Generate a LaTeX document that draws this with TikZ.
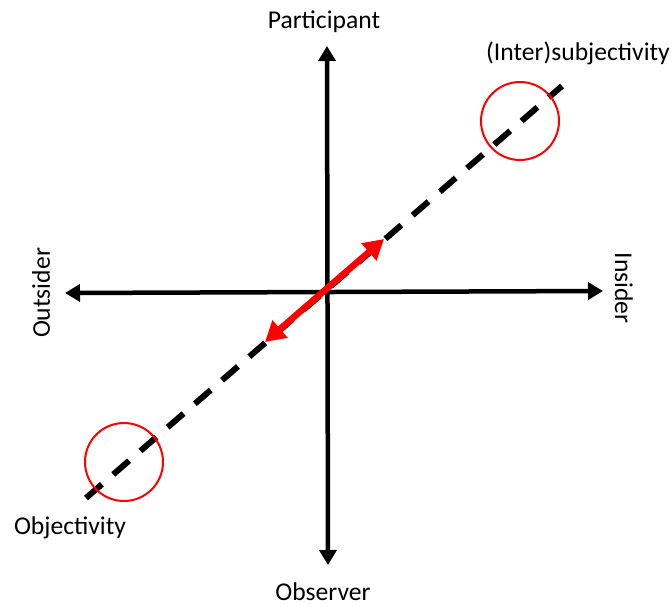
\documentclass[tikz,border=0pt]{standalone}
\usepackage{fontspec}
\setmainfont{Carlito}
\usetikzlibrary{arrows.meta}
\begin{document}
\begin{tikzpicture}[x=1pt,y=-1pt,
  axis/.style={line width=4.5pt,draw=black,{Triangle[length=15pt,width=17pt]}-{Triangle[length=15pt,width=17pt]}},
  diag/.style={line width=6pt,draw=black,dash pattern=on 21pt off 15pt},
  link/.style={line width=6.5pt,draw=red,{Triangle[length=20pt,width=22pt]}-{Triangle[length=20pt,width=22pt]}},
  ring/.style={circle,draw=red,line width=2pt,minimum size=78pt,inner sep=0pt},
  lbl/.style={font=\fontsize{25.6}{30}\selectfont,inner sep=0pt}]
  \useasboundingbox (0,0) rectangle (672,607);
  % axes
  \coordinate (top) at (327,46);
  \coordinate (bot) at (328,565);
  \coordinate (lft) at (65,293);
  \coordinate (rgt) at (603,291);
  \draw[axis] (bot) -- (top);
  \draw[axis] (lft) -- (rgt);
  % diagonal
  \coordinate (dlo) at (86,498);
  \coordinate (dhi) at (562,86);
  \draw[diag] (dlo) -- (dhi);
  % highlighted ends
  \node[ring] (hi) at (520,121) {};
  \node[ring] (lo) at (124,462) {};
  % central double arrow
  \coordinate (alo) at (265,342);
  \coordinate (ahi) at (384,239);
  \draw[link] (alo) -- (ahi);
  % labels
  \node[lbl] (part) at (324,22) {Participant};
  \node[lbl] (obs) at (323,592) {Observer};
  \node[lbl,rotate=90] (out) at (41,293) {Outsider};
  \node[lbl,rotate=-90] (ins) at (624,288) {Insider};
  \node[lbl] (inter) at (578,53) {(Inter)subjectivity};
  \node[lbl] (obj) at (70,528) {Objectivity};
\end{tikzpicture}
\end{document}
